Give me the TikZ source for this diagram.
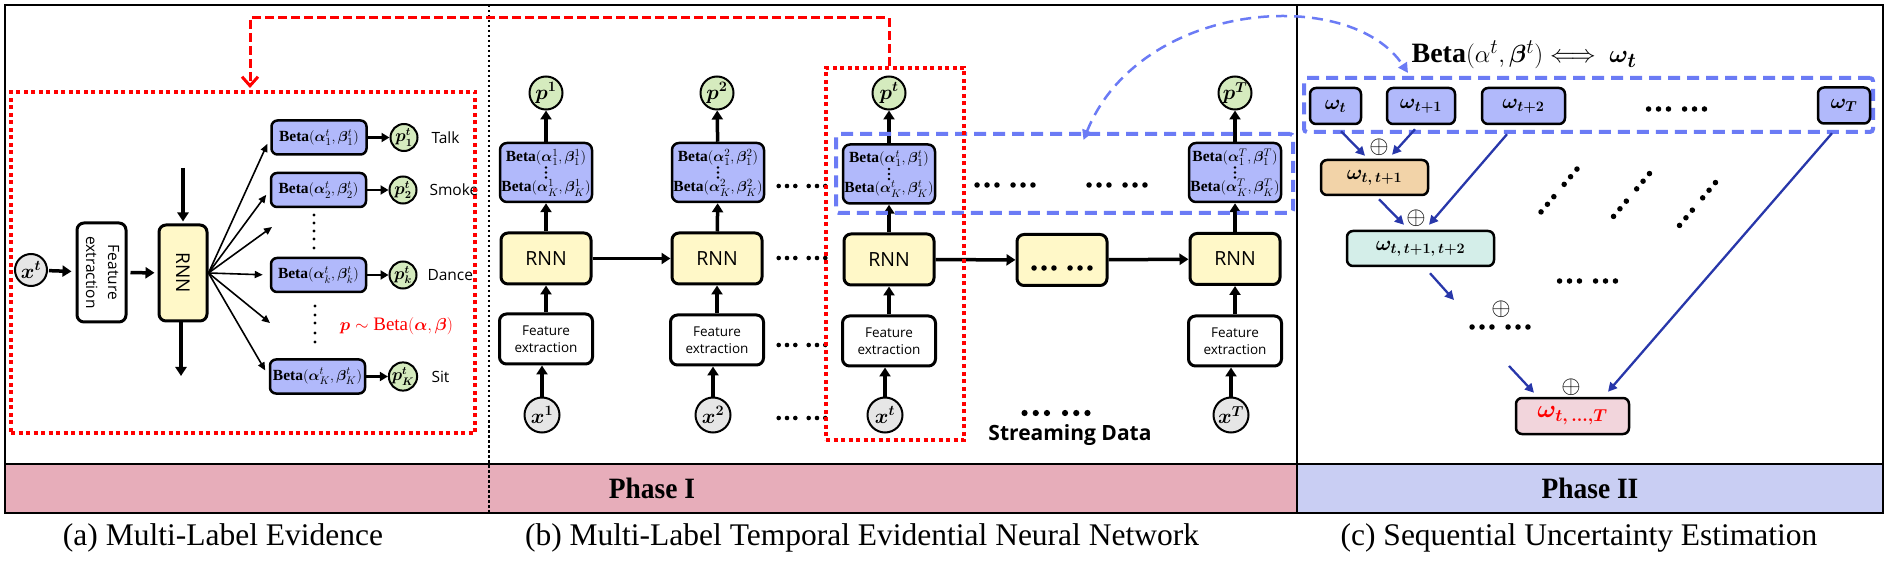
\documentclass[tikz,border=0pt]{standalone}
\usepackage{amsmath,amssymb,bm}
\usepackage{graphicx}
\usepackage{fontspec}
\setmainfont{Liberation Serif}
\newfontfamily\uifont{Open Sans}
\usepackage{tikz}
\usetikzlibrary{arrows.meta}

\definecolor{betablue}{RGB}{177,185,251}
\definecolor{rnnyellow}{RGB}{255,248,200}
\definecolor{pgreen}{RGB}{213,235,190}
\definecolor{xgray}{RGB}{230,230,230}
\definecolor{dashblue}{RGB}{107,123,245}
\definecolor{arrowblue}{RGB}{40,55,170}
\definecolor{phaseone}{RGB}{231,173,186}
\definecolor{phasetwo}{RGB}{201,206,243}
\definecolor{orangebox}{RGB}{242,211,168}
\definecolor{mintbox}{RGB}{212,238,233}
\definecolor{pinkbox}{RGB}{242,213,220}

\newcommand{\btwo}[1]{$\mathbf{Beta}(\bm{\alpha}_1^{#1},\bm{\beta}_1^{#1})$\\[12pt]$\mathbf{Beta}(\bm{\alpha}_K^{#1},\bm{\beta}_K^{#1})$}

\begin{document}
\begin{tikzpicture}[x=1pt,y=-1pt,>={Triangle[length=9pt,width=11pt]},
  box/.style={draw,line width=3pt,rounded corners=7pt,inner sep=0pt},
  rnn/.style={box,fill=rnnyellow,minimum width=90,minimum height=51,font=\uifont\fontsize{19.5}{20}\selectfont},
  fe/.style={box,fill=white,minimum width=93,minimum height=50,align=center,font=\uifont\fontsize{13.5}{17.5}\selectfont},
  bbox/.style={draw,line width=2.5pt,rounded corners=7pt,fill=betablue,inner sep=0pt,minimum width=92,minimum height=59,align=center,font=\fontsize{15.5}{18}\selectfont},
  abox/.style={draw,line width=2.5pt,rounded corners=6pt,fill=betablue,inner sep=0pt,minimum width=95,minimum height=34,font=\fontsize{15.5}{16}\selectfont},
  wbox/.style={draw,line width=2.5pt,rounded corners=6pt,inner sep=0pt,minimum height=36,font=\fontsize{20}{20}\selectfont},
  pcirc/.style={circle,draw,line width=2pt,fill=pgreen,inner sep=0pt,minimum size=33,font=\fontsize{21}{21}\selectfont},
  xcirc/.style={circle,draw,line width=2pt,fill=xgray,inner sep=0pt,minimum size=35,font=\fontsize{22}{22}\selectfont},
  tharrow/.style={->,line width=3.5pt},
  fan/.style={-{Triangle[length=8pt,width=7pt]},line width=1.6pt},
  parrow/.style={-{Triangle[length=8pt,width=9pt]},line width=2.5pt},
  barrow/.style={-{Triangle[length=9pt,width=9pt]},draw=arrowblue,line width=2.3pt},
  reddot/.style={draw=red,line width=4pt,dash pattern=on 4pt off 3.5pt,inner sep=0pt},
  reddash/.style={draw=red,line width=3pt,dash pattern=on 9pt off 4pt,-{Straight Barb[length=9pt,width=16pt,line width=3pt]}},
  bluedash/.style={draw=dashblue,line width=4pt,dash pattern=on 12pt off 7pt,rounded corners=3pt,inner sep=0pt},
  bluecurve/.style={draw=dashblue,line width=2.5pt,dash pattern=on 11pt off 7pt,{Triangle[length=10pt,width=10pt]}-{Triangle[length=10pt,width=10pt]}},
  lab/.style={anchor=west,font=\uifont\fontsize{15.5}{15.5}\selectfont},
  op/.style={inner sep=0pt,font=\fontsize{28}{28}\selectfont},
  phase/.style={font=\fontsize{29.5}{32}\selectfont\bfseries},
  caption/.style={font=\fontsize{31.5}{34}\selectfont},
  sixdots/.pic={\foreach \d in {-23.3,-15,-6.7,6.7,15,23.3} \fill (\d,0) circle (2.3);}]
\useasboundingbox (0,0) rectangle (1891,561);
\fill[phaseone] (5,464) rectangle (1297,512);
\fill[phasetwo] (1297,464) rectangle (1883,513);
\draw[line width=2.5pt] (5,5) rectangle (1883,513);
\draw[line width=2.5pt] (5,464) -- (1883,464);
\draw[line width=2.5pt] (1297,5) -- (1297,513);
\draw[line width=2.5pt,dash pattern=on 2.5pt off 2.5pt] (489,5) -- (489,512);
\node[phase] (ph1) at (652,488) {\scalebox{0.93}[1]{Phase I}};
\node[phase] (ph2) at (1590,488) {\scalebox{0.93}[1]{Phase II}};
\node[caption] (capa) at (223,538) {(a) Multi-Label Evidence};
\node[caption] (capb) at (862,538) {(b) Multi-Label Temporal Evidential Neural Network};
\node[caption] (capc) at (1579,538) {(c) Sequential Uncertainty Estimation};

\node[xcirc,minimum size=32,font=\fontsize{20}{20}\selectfont] (xa) at (31,270) {$\bm{x^t}$};
\node[box,fill=white,minimum width=49,minimum height=99,font=\uifont\fontsize{15.5}{22}\selectfont] (fea) at (101.5,272.5) {\rotatebox{-90}{\begin{tabular}{@{}c@{}}Feature\\extraction\end{tabular}}};
\node[box,fill=rnnyellow,minimum width=48,minimum height=96,font=\uifont\fontsize{19}{19}\selectfont] (rnna) at (183,273) {\rotatebox{-90}{RNN}};
\coordinate (ina) at (183,168);
\coordinate (outa) at (181,376);
\draw[tharrow,shorten <=1pt,shorten >=4pt] (xa) -- (fea);
\draw[tharrow,shorten <=3pt,shorten >=3pt] (fea) -- (rnna);
\draw[tharrow,shorten >=2pt] (ina) -- (rnna.north);
\draw[tharrow] (rnna.south -| outa) -- (outa);
\node[abox] (ba1) at (319,137.5) {$\mathbf{Beta}(\bm{\alpha}_1^t,\bm{\beta}_1^t)$};
\node[abox] (ba2) at (318.5,190) {$\mathbf{Beta}(\bm{\alpha}_2^t,\bm{\beta}_2^t)$};
\node[abox] (bak) at (318.5,275) {$\mathbf{Beta}(\bm{\alpha}_k^t,\bm{\beta}_k^t)$};
\node[abox] (baK) at (317.5,376.5) {$\mathbf{Beta}(\bm{\alpha}_K^t,\bm{\beta}_K^t)$};
\node[pcirc,minimum size=27,font=\fontsize{16}{16}\selectfont] (pa1) at (404,137.5) {$\bm{p_1^t}$};
\node[pcirc,minimum size=27,font=\fontsize{16}{16}\selectfont] (pa2) at (403,190) {$\bm{p_2^t}$};
\node[pcirc,minimum size=27,font=\fontsize{16}{16}\selectfont] (pak) at (403,275) {$\bm{p_k^t}$};
\node[pcirc,minimum size=27,font=\fontsize{16}{16}\selectfont] (paK) at (403,376.5) {$\bm{p_K^t}$};
\coordinate (fan3) at (272,227);
\coordinate (fan5) at (270,323);
\draw[fan,shorten >=7pt] (rnna.east) -- (ba1.west);
\draw[fan,shorten >=6pt] (rnna.east) -- (ba2.west);
\draw[fan] (rnna.east) -- (fan3);
\draw[fan,shorten >=7pt] (rnna.east) -- (bak.west);
\draw[fan] (rnna.east) -- (fan5);
\draw[fan,shorten >=7pt] (rnna.east) -- (baK.west);
\draw[parrow] (ba1) -- (pa1);
\draw[parrow] (ba2) -- (pa2);
\draw[parrow] (bak) -- (pak);
\draw[parrow] (baK) -- (paK);
\node[lab] (l1) at (428,137.5) {Talk};
\node[lab] (l2) at (426,190) {Smoke};
\node[lab] (lk) at (424,275) {Dance};
\node[lab] (lK) at (428,376.5) {Sit};
\foreach \y in {215,223,231,239,248} \fill (314,\y) circle (1.6);
\foreach \y in {306,315,323,333,342} \fill (315,\y) circle (1.6);
\node[red,font=\fontsize{19}{19}\selectfont] (prior) at (396.5,326) {$\bm{p}\sim\mathrm{Beta}(\bm{\alpha},\bm{\beta})$};
\node[reddot,minimum width=464,minimum height=341] (boxa) at (243,262.5) {};

\node[pcirc] (p1) at (546,93) {$\bm{p^1}$};
\node[bbox] (b1) at (546,172.5) {\btwo{1}};
\node[rnn] (r1) at (546,258.5) {RNN};
\node[fe] (f1) at (546,339) {Feature\\extraction};
\node[xcirc] (x1) at (542,415) {$\bm{x^1}$};
\node[pcirc] (p2) at (717,93) {$\bm{p^2}$};
\node[bbox] (b2) at (718,172.5) {\btwo{2}};
\node[rnn] (r2) at (717,258.5) {RNN};
\node[fe] (f2) at (717,340) {Feature\\extraction};
\node[xcirc] (x2) at (713,415) {$\bm{x^2}$};
\node[pcirc] (p3) at (889,93) {$\bm{p^t}$};
\node[bbox] (b3) at (889,174) {\btwo{t}};
\node[rnn] (r3) at (889,259.5) {RNN};
\node[fe] (f3) at (889,341) {Feature\\extraction};
\node[xcirc] (x3) at (885,415) {$\bm{x^t}$};
\node[pcirc] (p4) at (1235,93) {$\bm{p^T}$};
\node[bbox] (b4) at (1235,172.5) {\btwo{T}};
\node[rnn] (r4) at (1235,259) {RNN};
\node[fe] (f4) at (1235,341) {Feature\\extraction};
\node[xcirc] (x4) at (1231,415) {$\bm{x^T}$};
\node[rnn] (rd) at (1062,260) {};
\pic[scale=1.2] at (1062,268) {sixdots};
\foreach \c in {1,2,3,4} {
  \foreach \d in {-5,0,5} \fill ([yshift=\d pt]b\c.center) circle (1.4);
  \draw[tharrow] (x\c) -- (x\c |- f\c.south);
  \draw[tharrow] (f\c) -- (r\c);
  \draw[tharrow] (r\c) -- (b\c);
  \draw[tharrow] (b\c) -- (p\c);
}
\draw[tharrow] (r1) -- (r2);
\draw[tharrow] (r3) -- (rd);
\draw[tharrow] (rd) -- (r4);
\foreach \y in {186,258,345,418} \pic at (802,\y) {sixdots};
\pic[scale=1.2] at (1005,185) {sixdots};
\pic[scale=1.2] at (1117,185) {sixdots};
\pic[scale=1.35] at (1056,413) {sixdots};
\node[font=\uifont\bfseries\fontsize{21}{21}\selectfont] (stream) at (1070,435) {Streaming Data};
\node[bluedash,minimum width=457,minimum height=79] (bm) at (1064.5,173.5) {};
\node[reddot,minimum width=138,minimum height=372] (boxt) at (895,254) {};
\draw[reddash,shorten >=2pt] ([xshift=-6pt]boxt.north) -- ++(0,-48) -| ([xshift=7pt]boxa.north);

\node[font=\fontsize{28}{28}\selectfont] (hdr) at (1524,55) {$\mathbf{Beta}(\alpha^t,\bm{\beta}^t)\Longleftrightarrow\;\bm{\omega_t}$};
\node[bluedash,minimum width=569,minimum height=54] (br) at (1588.5,105) {};
\node[wbox,fill=betablue,minimum width=51] (w1) at (1335.5,106) {$\bm{\omega_t}$};
\node[wbox,fill=betablue,minimum width=68] (w2) at (1421,106) {$\bm{\omega_{t+1}}$};
\node[wbox,fill=betablue,minimum width=83] (w3) at (1523.5,106) {$\bm{\omega_{t+2}}$};
\node[wbox,fill=betablue,minimum width=52] (wT) at (1844,105.5) {$\bm{\omega_T}$};
\pic[scale=1.2] at (1676.5,109) {sixdots};
\node[op] (o1) at (1379,147) {$\oplus$};
\node[wbox,fill=orangebox,minimum width=107,minimum height=35] (w12) at (1374.5,177.5) {$\bm{\omega_{t,\,t+1}}$};
\node[op] (o2) at (1416,218) {$\oplus$};
\node[wbox,fill=mintbox,minimum width=147,minimum height=35] (w123) at (1420.5,248.5) {$\bm{\omega_{t,\,t+1,\,t+2}}$};
\node[op] (o3) at (1501,309) {$\oplus$};
\pic[scale=1.2] at (1500,327) {sixdots};
\pic[scale=1.2] at (1587.5,281) {sixdots};
\pic[rotate=50,scale=1.2] at (1559,190.5) {sixdots};
\pic[rotate=50,scale=1.2] at (1631.5,195) {sixdots};
\pic[rotate=50,scale=1.2] at (1697.5,204) {sixdots};
\node[op] (o4) at (1571,387) {$\oplus$};
\node[wbox,fill=pinkbox,minimum width=113,font=\fontsize{23}{23}\selectfont,text=red] (wall) at (1572.5,416) {$\bm{\omega_{t,\,\dots,T}}$};
\coordinate (c5) at (1454,300);
\coordinate (c6) at (1509,366);
\draw[barrow] ([shift={(5.5,6)}]w1.south) -- ([shift={(-9.5,-3)}]w12.north);
\draw[barrow] ([shift={(-6,4)}]w2.south) -- ([shift={(17.5,-4)}]w12.north);
\draw[barrow] ([shift={(-16.5,9)}]w3.south) -- ([shift={(8.5,-5)}]w123.north);
\draw[barrow] ([shift={(4.5,3)}]w12.south) -- ([shift={(-16.5,-5)}]w123.north);
\draw[barrow] ([shift={(9.5,6)}]w123.south) -- (c5);
\draw[barrow] (c6) -- ([shift={(-38.5,-4)}]wall.north);
\draw[barrow] ([shift={(-12,8.5)}]wT.south) -- ([shift={(35.5,-5)}]wall.north);
\draw[bluecurve] ([xshift=19pt,yshift=-8pt]bm.north) .. controls (1140,0) and (1350,-15) .. ([shift={(-180.5,-3)}]br.north);
\end{tikzpicture}
\end{document}
